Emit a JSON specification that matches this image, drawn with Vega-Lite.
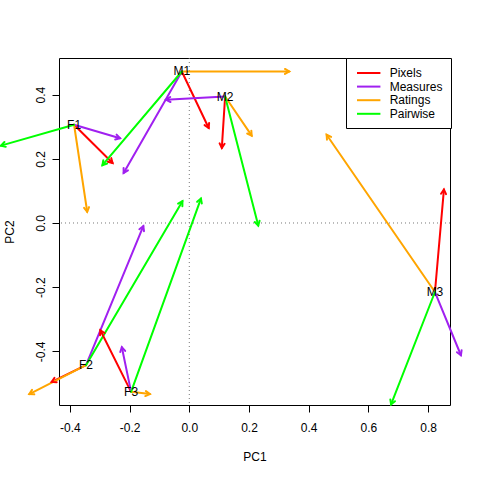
{
  "$schema": "https://vega.github.io/schema/vega-lite/v6.json",
  "width": 391,
  "height": 347,
  "autosize": {"type": "none"},
  "padding": {"left": 59, "top": 58, "right": 30, "bottom": 75},
  "background": "white",
  "datasets": {
    "arrows": [
      {"point": "F1", "method": "Pixels", "x": -0.386, "y": 0.306, "x2": -0.257, "y2": 0.187},
      {"point": "F1", "method": "Measures", "x": -0.386, "y": 0.306, "x2": -0.232, "y2": 0.264},
      {"point": "F1", "method": "Ratings", "x": -0.386, "y": 0.306, "x2": -0.342, "y2": 0.035},
      {"point": "F1", "method": "Pairwise", "x": -0.386, "y": 0.306, "x2": -0.631, "y2": 0.241},
      {"point": "M1", "method": "Pixels", "x": -0.025, "y": 0.472, "x2": 0.065, "y2": 0.296},
      {"point": "M1", "method": "Measures", "x": -0.025, "y": 0.472, "x2": -0.22, "y2": 0.156},
      {"point": "M1", "method": "Ratings", "x": -0.025, "y": 0.472, "x2": 0.335, "y2": 0.472},
      {"point": "M1", "method": "Pairwise", "x": -0.025, "y": 0.472, "x2": -0.291, "y2": 0.18},
      {"point": "M2", "method": "Pixels", "x": 0.12, "y": 0.394, "x2": 0.109, "y2": 0.234},
      {"point": "M2", "method": "Measures", "x": 0.12, "y": 0.394, "x2": -0.078, "y2": 0.384},
      {"point": "M2", "method": "Ratings", "x": 0.12, "y": 0.394, "x2": 0.209, "y2": 0.272},
      {"point": "M2", "method": "Pairwise", "x": 0.12, "y": 0.394, "x2": 0.231, "y2": -0.008},
      {"point": "M3", "method": "Pixels", "x": 0.823, "y": -0.215, "x2": 0.853, "y2": 0.104},
      {"point": "M3", "method": "Measures", "x": 0.823, "y": -0.215, "x2": 0.91, "y2": -0.412},
      {"point": "M3", "method": "Ratings", "x": 0.823, "y": -0.215, "x2": 0.46, "y2": 0.275},
      {"point": "M3", "method": "Pairwise", "x": 0.823, "y": -0.215, "x2": 0.676, "y2": -0.565},
      {"point": "F2", "method": "Pixels", "x": -0.346, "y": -0.443, "x2": -0.461, "y2": -0.495},
      {"point": "F2", "method": "Measures", "x": -0.346, "y": -0.443, "x2": -0.154, "y2": -0.01},
      {"point": "F2", "method": "Ratings", "x": -0.346, "y": -0.443, "x2": -0.536, "y2": -0.533},
      {"point": "F2", "method": "Pairwise", "x": -0.346, "y": -0.443, "x2": -0.023, "y2": 0.068},
      {"point": "F3", "method": "Pixels", "x": -0.195, "y": -0.526, "x2": -0.298, "y2": -0.334},
      {"point": "F3", "method": "Measures", "x": -0.195, "y": -0.526, "x2": -0.226, "y2": -0.387},
      {"point": "F3", "method": "Ratings", "x": -0.195, "y": -0.526, "x2": -0.132, "y2": -0.533},
      {"point": "F3", "method": "Pairwise", "x": -0.195, "y": -0.526, "x2": 0.039, "y2": 0.076}
    ],
    "labels": [
      {"label": "F1", "x": -0.386, "y": 0.306},
      {"label": "M1", "x": -0.025, "y": 0.472},
      {"label": "M2", "x": 0.12, "y": 0.394},
      {"label": "M3", "x": 0.823, "y": -0.215},
      {"label": "F2", "x": -0.346, "y": -0.443},
      {"label": "F3", "x": -0.195, "y": -0.526}
    ],
    "zero": [{"v": 0}]
  },
  "layer": [
    {
      "data": {"name": "zero"},
      "mark": {"type": "rule", "color": "#777777", "strokeWidth": 1, "strokeDash": [1, 3]},
      "encoding": {"x": {"field": "v", "type": "quantitative"}}
    },
    {
      "data": {"name": "zero"},
      "mark": {"type": "rule", "color": "#777777", "strokeWidth": 1, "strokeDash": [1, 3]},
      "encoding": {"y": {"field": "v", "type": "quantitative"}}
    },
    {
      "data": {"name": "arrows"},
      "mark": {"type": "rule", "strokeWidth": 2, "strokeCap": "round"},
      "encoding": {
        "x": {"field": "x", "type": "quantitative"},
        "y": {"field": "y", "type": "quantitative"},
        "x2": {"field": "x2"},
        "y2": {"field": "y2"},
        "color": {
          "field": "method", "type": "nominal",
          "scale": {"domain": ["Pixels", "Measures", "Ratings", "Pairwise"], "range": ["#FF0000", "#A020F0", "#FFA500", "#00FF00"]},
          "legend": {"title": null}
        }
      }
    },
    {
      "data": {"name": "arrows"},
      "transform": [
        {"calculate": "atan2((datum.x2 - datum.x) * 298.5, (datum.y2 - datum.y) * 321) * 180 / PI", "as": "ang"}
      ],
      "mark": {"type": "point", "shape": "M-0.5,0.866L0,0L0.5,0.866", "filled": false, "size": 100, "strokeWidth": 2, "opacity": 1, "strokeCap": "round", "strokeJoin": "miter"},
      "encoding": {
        "x": {"field": "x2", "type": "quantitative"},
        "y": {"field": "y2", "type": "quantitative"},
        "angle": {"field": "ang", "type": "quantitative", "scale": null},
        "color": {"field": "method", "type": "nominal", "legend": null}
      }
    },
    {
      "data": {"name": "labels"},
      "mark": {"type": "text", "font": "Liberation Sans", "fontSize": 12, "color": "black", "align": "center", "baseline": "middle"},
      "encoding": {
        "x": {"field": "x", "type": "quantitative"},
        "y": {"field": "y", "type": "quantitative"},
        "text": {"field": "label"}
      }
    }
  ],
  "resolve": {"scale": {"color": "shared"}},
  "encoding": {
    "x": {
      "type": "quantitative",
      "scale": {"domain": [-0.4365, 0.8734], "nice": false, "zero": false},
      "axis": {"title": "PC1", "values": [-0.4, -0.2, 0, 0.2, 0.4, 0.6, 0.8], "format": ".1f", "labelBaseline": "alphabetic", "labelPadding": 19, "titleY": 55, "titleBaseline": "alphabetic"}
    },
    "y": {
      "type": "quantitative",
      "scale": {"domain": [-0.567, 0.514], "nice": false, "zero": false},
      "axis": {"title": "PC2", "values": [-0.4, -0.2, 0, 0.2, 0.4], "format": ".1f", "labelAngle": 270, "labelAlign": "center", "labelBaseline": "alphabetic", "labelPadding": 8, "titleAngle": 270, "titleX": -46, "titleY": 173.5, "titleAlign": "center", "titleBaseline": "alphabetic"}
    }
  },
  "config": {
    "locale": {"number": {"decimal": ".", "thousands": ",", "grouping": [3], "currency": ["$", ""], "minus": "-"}},
    "view": {"stroke": "black", "strokeWidth": 1},
    "axis": {
      "grid": false, "domain": false, "tickColor": "black", "tickSize": 7, "tickWidth": 1,
      "labelFont": "Liberation Sans", "labelFontSize": 12, "labelColor": "black",
      "titleFont": "Liberation Sans", "titleFontSize": 12, "titleFontWeight": "normal", "titleColor": "black"
    },
    "legend": {
      "orient": "none", "legendX": 287, "legendY": 0,
      "symbolType": "M-0.684,0H3.316", "symbolSize": 137, "symbolStrokeWidth": 2,
      "labelFont": "Liberation Sans", "labelFontSize": 12, "labelColor": "black", "labelOffset": 21.7,
      "padding": 8, "strokeColor": "black", "fillColor": "white", "rowPadding": 0.6
    }
  }
}
